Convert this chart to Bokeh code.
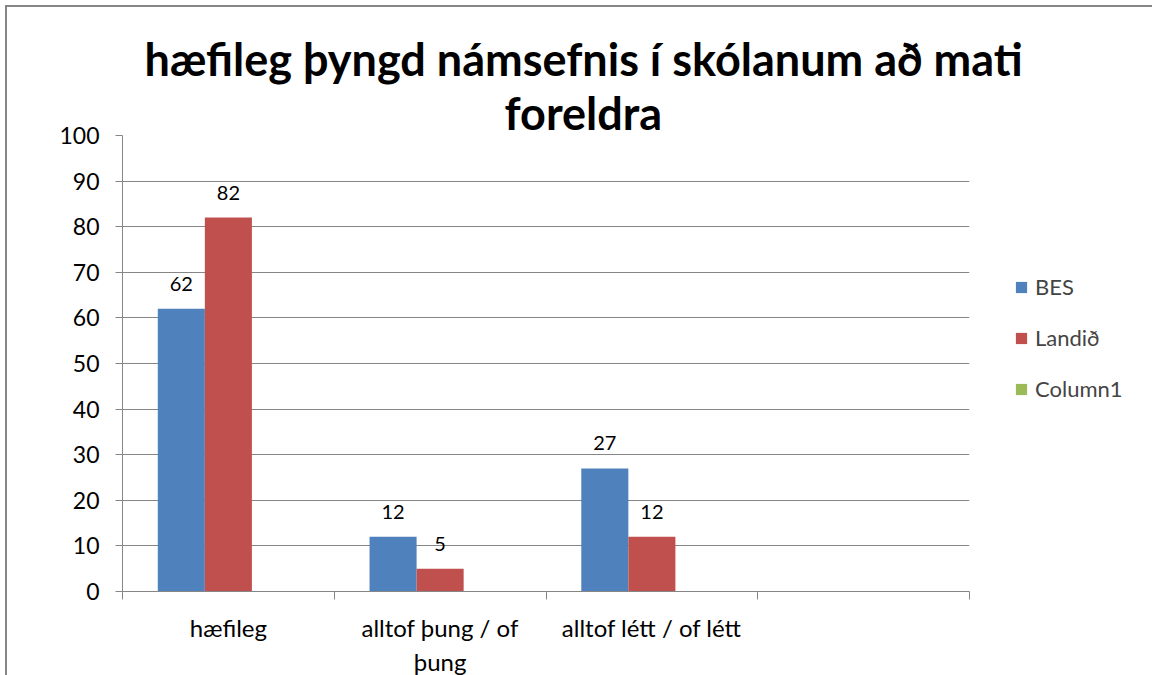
from bokeh.plotting import figure
from bokeh.models import (ColumnDataSource, FixedTicker, Legend, LegendItem, LinearAxis, Title)
from bokeh.transform import dodge
from bokeh.core.properties import value
from bokeh.embed import file_html
from bokeh.resources import INLINE

categories = ["hæfileg", "alltof þung / of\nþung", "alltof létt / of létt", ""]
bes = [62, 12, 27, float("nan")]
landid = [82, 5, 12, float("nan")]
column1 = [float("nan")] * 4
series_names = ["BES", "Landið", "Column1"]
colors = ["#4F81BD", "#C0504D", "#9BBB59"]
title_lines = ["hæfileg þyngd námsefnis í skólanum að mati", "foreldra"]

FONT = "Lato"
GRID = "#868686"

xs = [i + 0.5 for i in range(len(categories))]
src = ColumnDataSource(dict(
    x=xs, bes=bes, landid=landid, column1=column1,
    bes_lbl=[("%d" % v) if v == v else "" for v in bes],
    landid_lbl=[("%d" % v) if v == v else "" for v in landid],
))

FW, FH = 847, 456
ML, MT = 115, 128
W, H = 1140, 664

p = figure(width=W, height=H, frame_width=FW, frame_height=FH,
           x_range=(0, len(categories)), y_range=(0, 100),
           min_border_left=ML, min_border_top=MT,
           min_border_right=W - ML - FW, min_border_bottom=H - MT - FH,
           output_backend="svg", toolbar_location=None, x_axis_location=None)

p.margin = (5, 0, 0, 5)
p.styles = {"border-left": "2px solid #868686", "border-top": "2px solid #868686"}

def style_title(t, offset, standoff):
    t.text_font = FONT
    t.text_font_style = "bold"
    t.text_font_size = "45px"
    t.align = "left"
    t.offset = offset
    t.standoff = standoff
    t.text_color = "#000000"

p.title.text = title_lines[0]
style_title(p.title, 22, 5)
t2 = Title(text=title_lines[1])
style_title(t2, 382, -9)
p.add_layout(t2, "above")

bw = 1.0 / 4.5
r_bes = p.vbar(x=dodge("x", -bw, range=p.x_range), top="bes", width=bw, source=src,
               fill_color=colors[0], line_color=None)
r_land = p.vbar(x=dodge("x", 0, range=p.x_range), top="landid", width=bw, source=src,
                fill_color=colors[1], line_color=None)
r_col = p.vbar(x=dodge("x", bw, range=p.x_range), top="column1", width=bw, source=src,
               fill_color=colors[2], line_color=None)

for col, lbl, off in [("bes", "bes_lbl", -bw), ("landid", "landid_lbl", 0)]:
    p.text(x=dodge("x", off, range=p.x_range), y=col, text=lbl, source=src,
           text_font=value(FONT), text_font_size="20px", text_align="center",
           text_baseline="bottom", y_offset=-18, text_color="#000000")

# axes
p.yaxis.ticker = FixedTicker(ticks=list(range(0, 101, 10)))
p.yaxis.axis_line_color = GRID
p.yaxis.major_tick_line_color = GRID
p.yaxis.major_tick_out = 7
p.yaxis.major_tick_in = 0
p.yaxis.minor_tick_line_color = None
p.yaxis.major_label_text_font = FONT
p.yaxis.major_label_text_font_size = "23px"
p.yaxis.major_label_text_color = "#000000"
p.yaxis.major_label_standoff = 16

xaxis = LinearAxis(ticker=FixedTicker(ticks=xs, minor_ticks=list(range(len(categories) + 1))))
xaxis.major_label_overrides = {x: c for x, c in zip(xs, categories)}
xaxis.axis_line_color = GRID
xaxis.major_tick_line_color = None
xaxis.minor_tick_line_color = GRID
xaxis.minor_tick_out = 8
xaxis.minor_tick_in = 0
xaxis.major_label_text_font = FONT
xaxis.major_label_text_font_size = "24px"
xaxis.major_label_text_color = "#000000"
xaxis.major_label_standoff = 13
p.add_layout(xaxis, "below")

p.xgrid.grid_line_color = None
p.ygrid.grid_line_color = GRID
p.ygrid.ticker = FixedTicker(ticks=list(range(0, 101, 10)))
p.outline_line_color = None

legend = Legend(items=[LegendItem(label=n, renderers=[r]) for n, r in
                       zip(series_names, [r_bes, r_land, r_col])],
                location=(45, 189), orientation="vertical",
                glyph_width=14, glyph_height=14, label_height=20, spacing=24,
                padding=0, margin=0, label_standoff=7,
                label_text_font=FONT, label_text_font_size="22px",
                border_line_color=None, background_fill_alpha=0)
p.add_layout(legend, "right")

open("out.html", "w").write(file_html(p, INLINE))
